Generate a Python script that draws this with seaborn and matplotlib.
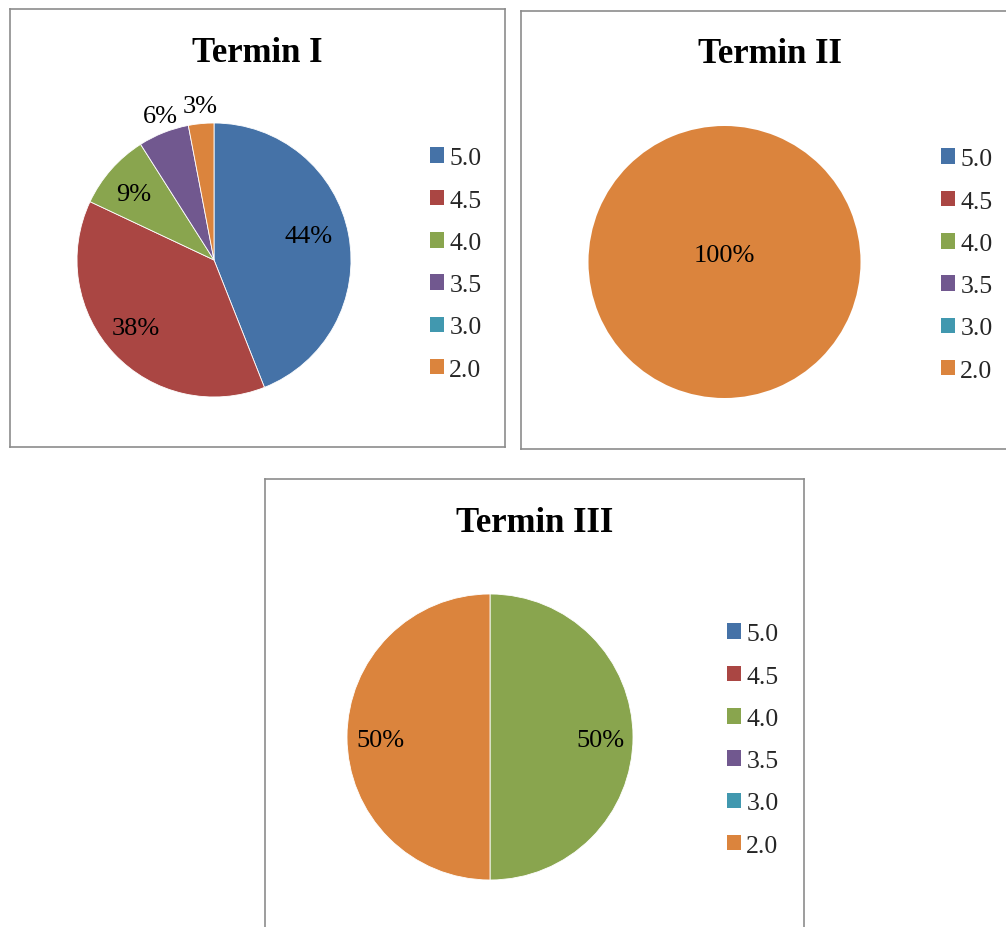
import matplotlib
matplotlib.use("Agg")
import matplotlib.pyplot as plt
import seaborn as sns
import numpy as np
from matplotlib.patches import Patch

# ---------------- data ----------------
categories = ["5.0", "4.5", "4.0", "3.5", "3.0", "2.0"]
termin_1 = [44, 38, 9, 6, 0, 3]
termin_2 = [0, 0, 0, 0, 0, 100]
termin_3 = [0, 0, 50, 0, 0, 50]
titles = ["Termin I", "Termin II", "Termin III"]
colors = ["#4572A7", "#AA4643", "#89A54E", "#71588F", "#4198AF", "#DB843D"]

# ---------------- style ----------------
sns.set_theme(style="white")
plt.rcParams["font.family"] = ["Liberation Serif", "DejaVu Serif"]
palette = sns.color_palette(colors)

W, H = 1006, 928
fig = plt.figure(figsize=(W / 100, H / 100), dpi=100)
fig.patch.set_facecolor("white")

# layout in pixel coordinates (x0, y0, x1, y1) of each framed panel
panels = [
    dict(values=termin_1, title=titles[0], box=(10, 10, 505, 448),
         center=(214, 261), r=137, title_base=62, leg=(430, 265),
         lab=[(0.72, 5), (0.74, -3.6), (0.775, 0.6), (1.145, -1.6), (0, 0), (1.15, -0.2)]),
    dict(values=termin_2, title=titles[1], box=(521, 12, 1019, 450),
         center=(724.5, 263), r=136, title_base=63, leg=(941, 266),
         lab=[(0, 0)] * 5 + [(-0.075, 0)]),
    dict(values=termin_3, title=titles[2], box=(265, 480, 804, 945),
         center=(490, 738), r=143, title_base=532, leg=(727, 741),
         lab=[(0, 0), (0, 0), (0.775, 0), (0, 0), (0, 0), (0.765, 0)]),
]

for p in panels:
    x0, y0, x1, y1 = p["box"]
    ax = fig.add_axes([x0 / W, 1 - y1 / H, (x1 - x0) / W, (y1 - y0) / H])
    cx, cy = p["center"][0] - x0, y1 - p["center"][1]
    vals = p["values"]
    wedges, _ = ax.pie(vals, colors=palette, startangle=90, counterclock=False,
                       center=(cx, cy), radius=p["r"], frame=True,
                       wedgeprops=dict(linewidth=0))
    nonzero = sum(1 for v in vals if v > 0)
    total = float(sum(vals))
    for w, v, (dist, off) in zip(wedges, vals, p["lab"]):
        if v <= 0:
            w.set_visible(False)
            continue
        if nonzero > 1:
            w.set_edgecolor("white")
            w.set_linewidth(0.6)
        mid = np.deg2rad((w.theta1 + w.theta2) / 2 + off)
        tx = cx + dist * p["r"] * np.cos(mid)
        ty = cy + dist * p["r"] * np.sin(mid) - 3
        ax.text(tx, ty, f"{v / total * 100:.0f}%", ha="center", va="center",
                fontsize=19, color="black")
    ax.set_xlim(0, x1 - x0)
    ax.set_ylim(0, y1 - y0)
    ax.set_aspect("auto")
    ax.set_xticks([])
    ax.set_yticks([])
    ax.set_frame_on(True)
    for s in ax.spines.values():
        s.set_visible(True)
        s.set_color("#8c8c8c")
        s.set_linewidth(1.2)
    ax.text((x1 - x0) / 2, y1 - p["title_base"], p["title"], ha="center",
            va="baseline", fontsize=25, fontweight="bold", color="black")
    handles = [Patch(facecolor=c, edgecolor="none", label=lab)
               for c, lab in zip(palette, categories)]
    lx, ly = p["leg"]
    ax.legend(handles=handles, loc="center left",
              bbox_to_anchor=(lx - x0, y1 - ly), bbox_transform=ax.transData,
              frameon=False, borderpad=0, borderaxespad=0,
              handlelength=0.55, handleheight=0.55, handletextpad=0.2,
              labelspacing=0.79, fontsize=18.5)

fig.savefig("out.png", dpi=100, facecolor="white")
